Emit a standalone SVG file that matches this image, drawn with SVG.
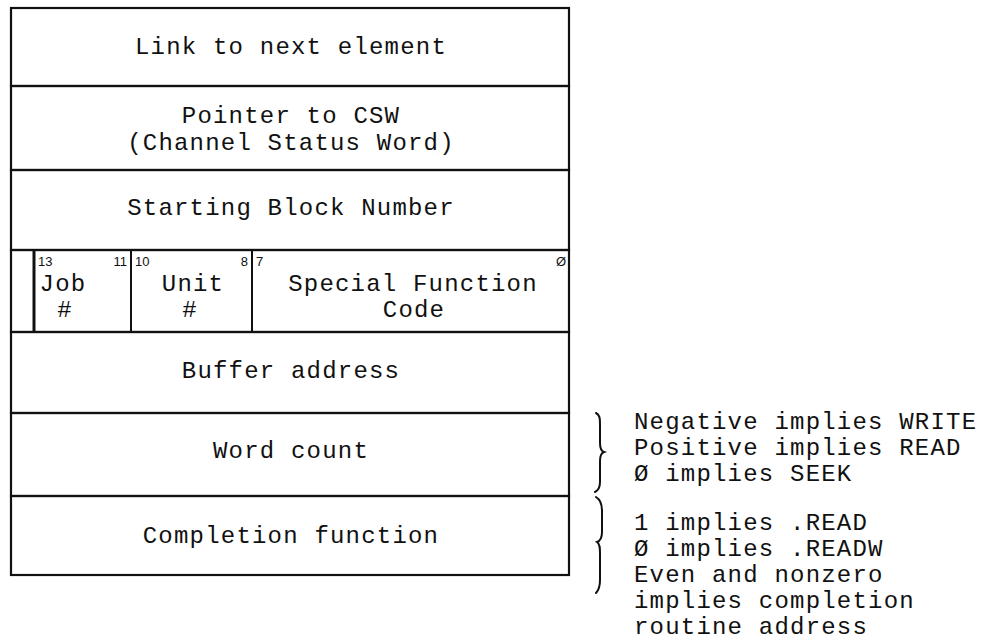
<svg xmlns="http://www.w3.org/2000/svg" width="987" height="641" viewBox="0 0 987 641">
<style>
.t{font-family:"Liberation Mono","DejaVu Sans Mono",monospace;font-size:24px;letter-spacing:1.2px;fill:#111}
.c{text-anchor:middle}
.n{font-family:"Liberation Sans",Arial,sans-serif;font-size:13px;fill:#111}
.b{fill:none;stroke:#111;stroke-width:2.2}
.br{fill:none;stroke:#111;stroke-width:2;stroke-linecap:round}
</style>
<rect width="987" height="641" fill="#fff"/>
<g id="row1"><rect class="b" x="11" y="8" width="558" height="78"/><text class="t c" x="291" y="54">Link to next element</text></g>
<g id="row2"><rect class="b" x="11" y="86" width="558" height="84"/><text class="t c" x="291" y="123">Pointer to CSW</text><text class="t c" x="291" y="150">(Channel Status Word)</text></g>
<g id="row3"><rect class="b" x="11" y="170" width="558" height="80"/><text class="t c" x="291" y="215">Starting Block Number</text></g>
<g id="row4"><rect class="b" x="11" y="250" width="558" height="82"/>
<line x1="34" y1="250" x2="34" y2="332" stroke="#111" stroke-width="3"/>
<line x1="131" y1="250" x2="131" y2="332" stroke="#111" stroke-width="2"/>
<line x1="252" y1="250" x2="252" y2="332" stroke="#111" stroke-width="2"/>
<text class="n" x="38" y="266">13</text><text class="n" x="127" y="266" text-anchor="end">11</text>
<text class="n" x="135" y="266">10</text><text class="n" x="248" y="266" text-anchor="end">8</text>
<text class="n" x="256" y="266">7</text><text class="n" x="566" y="266" text-anchor="end">Ø</text>
<text class="t c" x="63" y="291">Job</text><text class="t c" x="65" y="317">#</text>
<text class="t c" x="193" y="291">Unit</text><text class="t c" x="190" y="317">#</text>
<text class="t c" x="413" y="291">Special Function</text><text class="t c" x="414" y="317">Code</text>
</g>
<g id="row5"><rect class="b" x="11" y="332" width="558" height="81"/><text class="t c" x="291" y="378">Buffer address</text></g>
<g id="row6"><rect class="b" x="11" y="413" width="558" height="83"/><text class="t c" x="291" y="458">Word count</text></g>
<g id="row7"><rect class="b" x="11" y="496" width="558" height="79"/><text class="t c" x="291" y="543">Completion function</text></g>
<g id="connectors">
<path class="br" d="M596,413 C600,415 600,419 600,424 L600,443 C600,448 601,451 604,452 C601,453 600,456 600,461 L600,482 C600,487 599,490 595,492"/>
<path class="br" d="M596,497 C601,500 602,505 602,511 L602,532 C602,538 600,541 597,542 C600,544 600,548 600,553 L600,580 C600,586 599,590 596,593"/>
</g>
<g id="notes">
<text class="t" x="634" y="429">Negative implies WRITE</text>
<text class="t" x="634" y="455">Positive implies READ</text>
<text class="t" x="634" y="481">Ø implies SEEK</text>
<text class="t" x="634" y="530">1 implies .READ</text>
<text class="t" x="634" y="556">Ø implies .READW</text>
<text class="t" x="634" y="582">Even and nonzero</text>
<text class="t" x="634" y="608">implies completion</text>
<text class="t" x="634" y="634">routine address</text>
</g>
</svg>
